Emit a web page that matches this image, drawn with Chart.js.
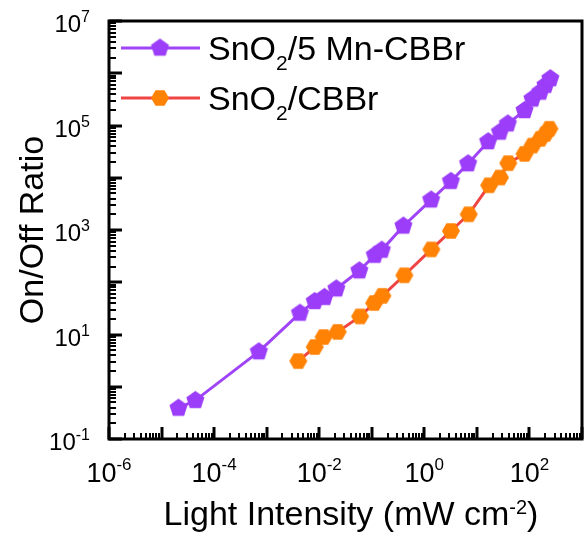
<!DOCTYPE html>
<html><head><meta charset="utf-8">
<script src="https://cdn.jsdelivr.net/npm/chart.js@4/dist/chart.umd.min.js"></script>
<style>
html,body{margin:0;padding:0;overflow:hidden;background:#fff;width:586px;height:538px}
canvas{display:block}
</style></head>
<body>
<canvas id="c" width="594" height="538" style="width:594px;height:538px"></canvas>
<script>
// ---- data ----
const mnIntensity = [2.1e-5, 4.4e-5, 7.1e-4, 4.3e-3, 8.2e-3, 0.0126, 0.0212, 0.058, 0.114, 0.155, 0.40, 1.35, 3.2, 6.8, 16.4, 27.5, 38.8, 80.7, 114, 161, 202, 250];
const mnRatio     = [0.39, 0.55, 4.7, 25.7, 43, 51.5, 75, 166, 330, 412, 1194, 3776, 8570, 18600, 49200, 75000, 108000, 194000, 323000, 437000, 590000, 790000];
const cbIntensity = [4.0e-3, 8.2e-3, 0.0121, 0.0224, 0.060, 0.111, 0.159, 0.416, 1.36, 3.2, 7.0, 17.1, 27.5, 39.6, 80.7, 114, 161, 202, 240];
const cbRatio     = [3.1, 5.75, 8.95, 11.2, 22.2, 40, 55, 136, 425, 957, 2000, 7180, 10100, 19000, 28600, 41200, 55500, 69200, 86500];
const legendLabels = [['SnO','2','/5 Mn-CBBr'], ['SnO','2','/CBBr']];
const xTickExponents = [-6, -4, -2, 0, 2];
const yTickExponents = [-1, 1, 3, 5, 7];
const xTitle = ['Light Intensity (mW cm', '-2', ')'];
const yTitle = 'On/Off Ratio';

const PURPLE_MK = '#9B3DF9', PURPLE_LN = '#A044F7';
const ORANGE_MK = '#FF8205', RED_LN = '#EF4444';
const FONT = '"Liberation Sans", Arial, sans-serif';

function polyCanvas(n, r, color, rot) {
  const s = Math.ceil(2 * r + 2);
  const c = document.createElement('canvas');
  c.width = s; c.height = s;
  const g = c.getContext('2d');
  g.fillStyle = color;
  g.beginPath();
  for (let i = 0; i < n; i++) {
    const a = rot + i * 2 * Math.PI / n;
    const px = s / 2 + r * Math.cos(a), py = s / 2 + r * Math.sin(a);
    i ? g.lineTo(px, py) : g.moveTo(px, py);
  }
  g.closePath(); g.fill();
  return c;
}
const pent = polyCanvas(5, 9.5, PURPLE_MK, -Math.PI / 2);
const hexa = polyCanvas(6, 9, ORANGE_MK, 0);

function toPts(xs, ys) { return xs.map((x, i) => ({x: x, y: ys[i]})); }

const W = 594, H = 538;
const area = {left: 109, top: 21, right: 592, bottom: 439};

function drawSupText(ctx, parts, x, y, bigSize, smallSize, shift, align, sub) {
  // parts: [base, script, tail]
  ctx.save();
  ctx.textBaseline = 'alphabetic';
  ctx.textAlign = 'left';
  const fb = bigSize + 'px ' + FONT, fs = smallSize + 'px ' + FONT;
  ctx.font = fb; const w0 = ctx.measureText(parts[0]).width;
  ctx.font = fs; const w1 = ctx.measureText(parts[1]).width;
  ctx.font = fb; const w2 = parts[2] ? ctx.measureText(parts[2]).width : 0;
  const tot = w0 + w1 + w2;
  let sx = x;
  if (align === 'center') sx = x - tot / 2;
  else if (align === 'right') sx = x - tot;
  ctx.font = fb; ctx.fillText(parts[0], sx, y);
  ctx.font = fs; ctx.fillText(parts[1], sx + w0, y + shift);
  if (parts[2]) { ctx.font = fb; ctx.fillText(parts[2], sx + w0 + w1, y); }
  ctx.restore();
}

const framePlugin = {
  id: 'frame',
  afterDatasetsDraw(chart) {
    const ctx = chart.ctx, ca = chart.chartArea;
    const xs = chart.scales.x, ys = chart.scales.y;
    ctx.save();
    ctx.strokeStyle = '#000';
    ctx.fillStyle = '#000';
    ctx.lineWidth = 3;
    ctx.strokeRect(ca.left, ca.top, ca.right - ca.left, ca.bottom - ca.top);
    // x ticks (inward)
    for (let e = -6; e <= 3; e++) {
      for (let m = 1; m <= 9; m++) {
        const v = m * Math.pow(10, e);
        if (v < xs.min || v > xs.max) continue;
        const px = Math.round(xs.getPixelForValue(v));
        const len = m === 1 ? 12 : 6;
        ctx.lineWidth = m === 1 ? 3 : 2;
        ctx.beginPath(); ctx.moveTo(px, ca.bottom); ctx.lineTo(px, ca.bottom - len); ctx.stroke();
      }
    }
    // y ticks (inward)
    for (let e = -1; e <= 7; e++) {
      for (let m = 1; m <= 9; m++) {
        const v = m * Math.pow(10, e);
        if (v < ys.min || v > ys.max) continue;
        const py = Math.round(ys.getPixelForValue(v));
        const len = m === 1 ? 13 : 7;
        ctx.lineWidth = m === 1 ? 3 : 2;
        ctx.beginPath(); ctx.moveTo(ca.left, py); ctx.lineTo(ca.left + len, py); ctx.stroke();
      }
    }
    // tick labels
    xTickExponents.forEach(e => {
      const px = xs.getPixelForValue(Math.pow(10, e));
      drawSupText(ctx, ['10', String(e).replace('-', '-'), ''], px, 482, 27, 17, -12, 'center');
    });
    yTickExponents.forEach(e => {
      const py = ys.getPixelForValue(Math.pow(10, e));
      drawSupText(ctx, ['10', String(e), ''], 90, py + 11, 24, 16, -10, 'right');
    });
    // axis titles
    drawSupText(ctx, xTitle, 351, 525, 34, 20, -11, 'center');
    ctx.save();
    ctx.translate(43, 230);
    ctx.rotate(-Math.PI / 2);
    ctx.font = '34px ' + FONT;
    ctx.textAlign = 'center';
    ctx.textBaseline = 'alphabetic';
    ctx.fillText(yTitle, 0, 0);
    ctx.restore();
    // legend
    const rows = [
      {y: 48, line: PURPLE_LN, mk: pent},
      {y: 98, line: RED_LN, mk: hexa}
    ];
    rows.forEach((r, i) => {
      ctx.strokeStyle = r.line; ctx.lineWidth = 3;
      ctx.beginPath(); ctx.moveTo(121, r.y); ctx.lineTo(200, r.y); ctx.stroke();
      ctx.drawImage(r.mk, 160 - r.mk.width / 2, r.y - r.mk.height / 2);
      drawSupText(ctx, legendLabels[i], 208, r.y + 12, 34, 21, 10, 'left');
    });
    ctx.restore();
  }
};

new Chart(document.getElementById('c'), {
  type: 'scatter',
  data: {
    datasets: [
      {
        label: legendLabels[1].join(''),
        data: toPts(cbIntensity, cbRatio),
        showLine: true,
        borderColor: RED_LN,
        borderWidth: 3,
        backgroundColor: ORANGE_MK,
        pointStyle: hexa,
        pointRadius: 9,
        pointHoverRadius: 9
      },
      {
        label: legendLabels[0].join(''),
        data: toPts(mnIntensity, mnRatio),
        showLine: true,
        borderColor: PURPLE_LN,
        borderWidth: 3,
        backgroundColor: PURPLE_MK,
        pointStyle: pent,
        pointRadius: 9,
        pointHoverRadius: 9
      }
    ]
  },
  options: {
    responsive: false,
    animation: false,
    events: [],
    layout: {padding: {left: area.left, top: area.top, right: W - area.right, bottom: H - area.bottom}},
    scales: {
      x: {type: 'logarithmic', min: 1e-6, max: 1e3, display: false},
      y: {type: 'logarithmic', min: 0.1, max: 1e7, display: false}
    },
    plugins: {legend: {display: false}, tooltip: {enabled: false}}
  },
  plugins: [framePlugin]
});
</script>
</body></html>
